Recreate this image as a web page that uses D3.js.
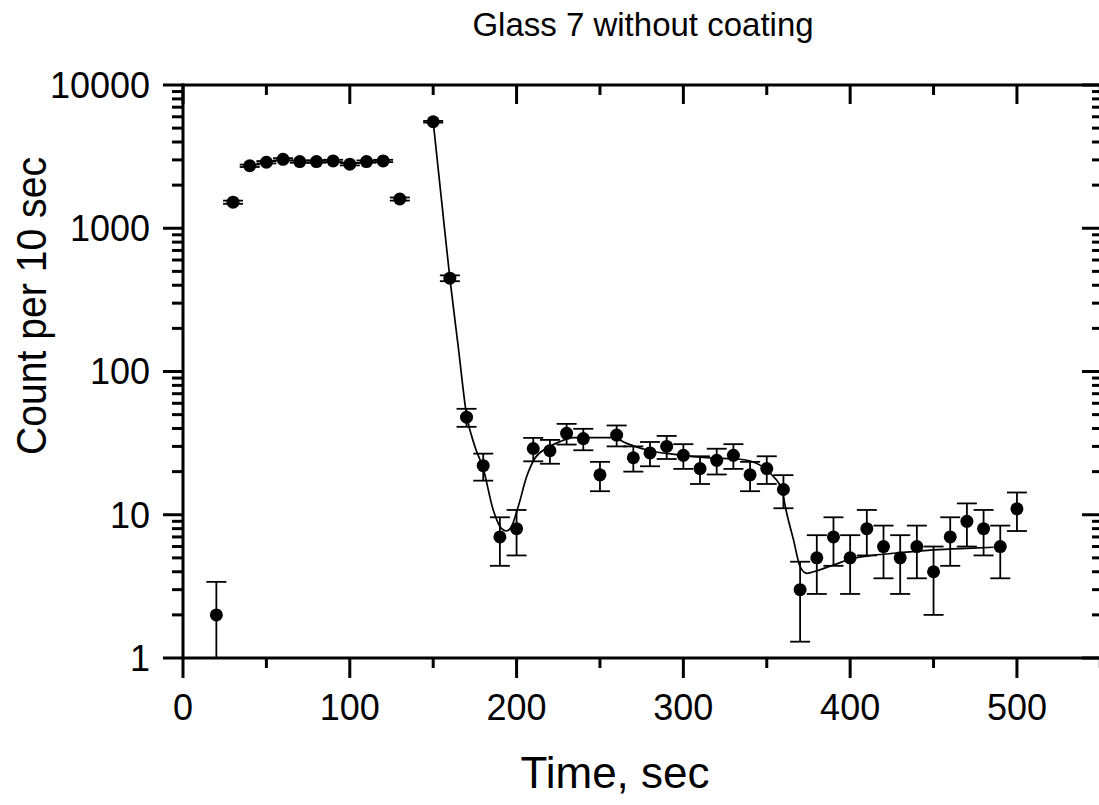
<!DOCTYPE html>
<head>
  <title>Glass 7 without coating</title>
  <script src="https://d3js.org/d3.v7.min.js"></script>
  <style>
    body { margin: 0; background: #fff; }
    text { font-family: Arial, "Liberation Sans", sans-serif; fill: #000; }
  </style>
</head>
<body>
  <svg width="1099" height="805"></svg>
  <script>
    // measured data (time in sec, counts per 10 sec, error bar half-width)
    const times  = [20, 30, 40, 50, 60, 70, 80, 90, 100, 110, 120, 130,
                    150, 160, 170, 180, 190, 200, 210, 220, 230, 240, 250, 260,
                    270, 280, 290, 300, 310, 320, 330, 340, 350, 360, 370, 380,
                    390, 400, 410, 420, 430, 440, 450, 460, 470, 480, 490, 500];
    const counts = [2, 1520, 2730, 2890, 3030, 2920, 2920, 2950, 2800, 2920, 2950, 1600,
                    5540, 448, 48, 22, 7, 8, 29, 28, 37, 34, 19, 36,
                    25, 27, 30, 26, 21, 24, 26, 19, 21, 15, 3, 5,
                    7, 5, 8, 6, 5, 6, 4, 7, 9, 8, 6, 11];
    const errors = [1.4, 39, 52, 54, 55, 54, 54, 54, 53, 54, 54, 40,
                    74, 21, 6.9, 4.7, 2.6, 2.8, 5.4, 5.3, 6.1, 5.8, 4.4, 6.0,
                    5.0, 5.2, 5.5, 5.1, 4.6, 4.9, 5.1, 4.4, 4.6, 3.9, 1.7, 2.2,
                    2.6, 2.2, 2.8, 2.4, 2.2, 2.4, 2.0, 2.6, 3.0, 2.8, 2.4, 3.3];

    // fitted curve
    const fitTimes  = [150, 155, 160, 165, 170, 175, 180, 186, 191, 194, 197, 201, 206, 211,
                       218, 226, 234, 258, 266, 278, 298, 314, 334, 346, 353, 359, 362,
                       366, 370, 374, 378, 390, 402, 410, 430, 450, 470, 486];
    const fitCounts = [5540, 1570, 448, 150, 50, 30, 21, 10.8, 8.0, 7.7, 8.3, 11.4, 18.4, 24.8,
                       29.1, 32.4, 34.5, 34.5, 31.5, 28.3, 26.1, 25, 24.4, 22.2, 19, 14.9, 10.2,
                       6.7, 4.34, 3.9, 4.0, 4.46, 4.97, 5.15, 5.43, 5.68, 5.83, 5.93];

    const xMajor = [0, 100, 200, 300, 400, 500];
    const xMinor = [50, 150, 250, 350, 450, 550];
    const yMajor = [1, 10, 100, 1000, 10000];

    const title = "Glass 7 without coating",
          xTitle = "Time, sec",
          yTitle = "Count per 10 sec";

    const svg = d3.select("svg"),
          pL = 183, pR = 1102, pT = 85, pB = 658;

    const x = d3.scaleLinear().domain([0, 551]).range([pL, pR]),
          y = d3.scaleLog().domain([1, 10000]).range([pB, pT]);

    const yMinor = [];
    yMajor.slice(0, -1).forEach(d => { for (let k = 2; k <= 9; k++) yMinor.push(d * k); });

    const pts = times.map((t, i) => ({t: t, c: counts[i], e: errors[i]}));
    const fit = fitTimes.map((t, i) => ({t: t, c: fitCounts[i]}));

    // fit line
    svg.append("path")
      .datum(fit)
      .attr("fill", "none")
      .attr("stroke", "#000")
      .attr("stroke-width", 1.7)
      .attr("d", d3.line().x(d => x(d.t)).y(d => y(d.c)).curve(d3.curveMonotoneX));

    // error bars
    const eb = svg.append("g").attr("stroke", "#000").attr("stroke-width", 1.8);
    pts.forEach(d => {
      const hi = d.c + d.e, lo = d.c - d.e;
      const yHi = y(hi), yLo = lo < 1 ? pB : y(lo);
      eb.append("line").attr("x1", x(d.t)).attr("x2", x(d.t)).attr("y1", yHi).attr("y2", yLo);
      eb.append("line").attr("x1", x(d.t) - 10).attr("x2", x(d.t) + 10).attr("y1", yHi).attr("y2", yHi);
      if (lo >= 1)
        eb.append("line").attr("x1", x(d.t) - 10).attr("x2", x(d.t) + 10).attr("y1", yLo).attr("y2", yLo);
    });

    // points
    svg.append("g").selectAll("circle")
      .data(pts)
      .enter().append("circle")
      .attr("cx", d => x(d.t))
      .attr("cy", d => y(d.c))
      .attr("r", 6.5)
      .attr("fill", "#000");

    // axes frame
    const ax = svg.append("g").attr("stroke", "#000").attr("stroke-width", 3).attr("stroke-linecap", "butt");
    ax.append("line").attr("x1", pL).attr("x2", pR).attr("y1", pB).attr("y2", pB);
    ax.append("line").attr("x1", pL).attr("x2", pR).attr("y1", pT).attr("y2", pT);
    ax.append("line").attr("x1", pL).attr("x2", pL).attr("y1", pT - 1.5).attr("y2", pB + 1.5);
    ax.append("line").attr("x1", pR).attr("x2", pR).attr("y1", pT - 1.5).attr("y2", pB + 1.5);

    // x ticks: bottom outward, top inward
    xMajor.forEach(v => {
      ax.append("line").attr("x1", x(v)).attr("x2", x(v)).attr("y1", pB).attr("y2", pB + 20);
      ax.append("line").attr("x1", x(v)).attr("x2", x(v)).attr("y1", pT).attr("y2", pT + 19);
    });
    xMinor.forEach(v => {
      ax.append("line").attr("x1", x(v)).attr("x2", x(v)).attr("y1", pB).attr("y2", pB + 10);
      ax.append("line").attr("x1", x(v)).attr("x2", x(v)).attr("y1", pT).attr("y2", pT + 10);
    });
    // y ticks: left outward, right inward
    yMajor.forEach(v => {
      ax.append("line").attr("x1", pL - 20).attr("x2", pL).attr("y1", y(v)).attr("y2", y(v));
      ax.append("line").attr("x1", pR - 20).attr("x2", pR).attr("y1", y(v)).attr("y2", y(v));
    });
    yMinor.forEach(v => {
      ax.append("line").attr("x1", pL - 11).attr("x2", pL).attr("y1", y(v)).attr("y2", y(v));
      ax.append("line").attr("x1", pR - 10).attr("x2", pR).attr("y1", y(v)).attr("y2", y(v));
    });

    // tick labels
    svg.append("g").selectAll("text")
      .data(xMajor)
      .enter().append("text")
      .attr("x", d => x(d))
      .attr("y", 720)
      .attr("text-anchor", "middle")
      .style("font-size", "36px")
      .text(d => d);

    svg.append("g").selectAll("text")
      .data(yMajor)
      .enter().append("text")
      .attr("x", 150)
      .attr("y", d => y(d))
      .attr("dy", "0.36em")
      .attr("text-anchor", "end")
      .style("font-size", "36px")
      .text(d => d);

    // titles
    svg.append("text")
      .attr("x", 643).attr("y", 36)
      .attr("text-anchor", "middle")
      .style("font-size", "33px")
      .text(title);

    svg.append("text")
      .attr("x", 615).attr("y", 788)
      .attr("text-anchor", "middle")
      .style("font-size", "44px")
      .text(xTitle);

    svg.append("text")
      .attr("transform", "translate(46,306) rotate(-90)")
      .attr("text-anchor", "middle")
      .attr("textLength", 298)
      .attr("lengthAdjust", "spacingAndGlyphs")
      .style("font-size", "42px")
      .text(yTitle);
  </script>
</body>
